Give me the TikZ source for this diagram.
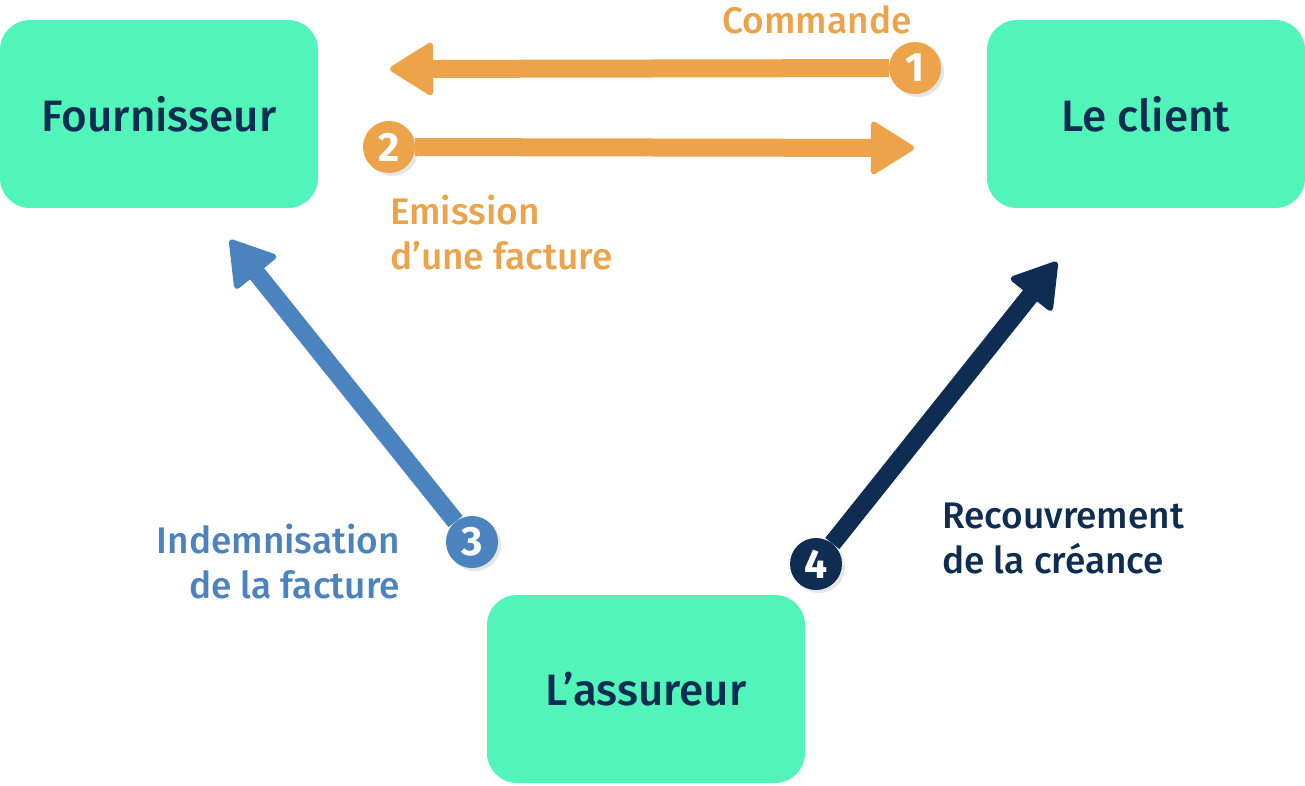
\documentclass[tikz,border=0pt]{standalone}
\usepackage{fontspec}
\setmainfont{Fira Sans Medium}
\newfontfamily\numfont{Fira Sans Bold}
\usetikzlibrary{arrows.meta,shadows}

\definecolor{mint}{HTML}{52F5B9}
\definecolor{navy}{HTML}{0F2D53}
\definecolor{orangefl}{HTML}{EDA34A}
\definecolor{bluefl}{HTML}{4A83BE}

\tikzset{
    party/.style={fill=mint, rounded corners=30pt, minimum width=318pt, minimum height=188pt,
        text=navy, font=\fontsize{44}{52}\selectfont},
    stepnum/.style={circle, fill=#1, minimum size=52pt, inner sep=0pt, text=white,
        font=\numfont\fontsize{41}{44}\selectfont,
        drop shadow={opacity=0.2, shadow xshift=3pt, shadow yshift=-3pt}},
    flow/.style={line width=18pt, draw=#1, -{Triangle[length=46pt, width=56pt, round, line width=6pt]}},
    tag/.style={text=#1, font=\fontsize{37}{45}\selectfont, inner sep=0pt}
}

\begin{document}
\begin{tikzpicture}[x=1pt, y=-1pt]
    \useasboundingbox (0,0) rectangle (1305,786);

    % Draw the three parties
    \node[party] (fourn) at (159,114) {Fournisseur};
    \node[party] (client) at (1146,114) {Le client};
    \node[party] (assur) at (646,689) {L’assureur};

    % Arrow ends
    \coordinate (t1) at (390,69);
    \coordinate (t2) at (914,148);
    \coordinate (t3) at (230,240);
    \coordinate (t4) at (1057,262);

    % Numbered steps
    \node[stepnum=orangefl] (s1) at (915,68) {1};
    \node[stepnum=orangefl] (s2) at (389,147) {2};
    \node[stepnum=bluefl] (s3) at (472,542) {3};
    \node[stepnum=navy] (s4) at (816,564) {4};

    % Draw the flows
    \draw[flow=orangefl] (s1) -- (t1);
    \draw[flow=orangefl] (s2) -- (t2);
    \draw[flow=bluefl] (s3) -- (t3);
    \draw[flow=navy] (s4) -- (t4);

    % Place the flow labels
    \node[tag=orangefl] (l1) at (817,20) {Commande};
    \node[tag=orangefl, align=left, anchor=west] (l2) at (390,233) {Emission\\d’une facture};
    \node[tag=bluefl, align=right, anchor=east] (l3) at (400,562) {Indemnisation\\de la facture};
    \node[tag=navy, align=left, anchor=west] (l4) at (942,538) {Recouvrement\\de la créance};
\end{tikzpicture}
\end{document}
